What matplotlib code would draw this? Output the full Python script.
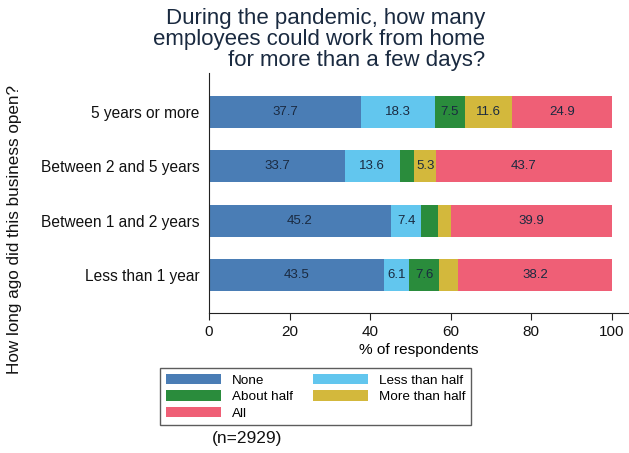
import matplotlib
matplotlib.use("Agg")
import matplotlib.pyplot as plt
from matplotlib.patches import Patch

plt.rcParams['font.family'] = ['Liberation Sans', 'DejaVu Sans']

categories = ["Less than 1 year", "Between 1 and 2 years", "Between 2 and 5 years", "5 years or more"]
series_names = ["None", "Less than half", "About half", "More than half", "All"]
none_vals = [43.5, 45.2, 33.7, 37.7]
less_half = [6.1, 7.4, 13.6, 18.3]
about_half = [7.6, 4.3, 3.7, 7.5]
more_half = [4.6, 3.2, 5.3, 11.6]
all_vals = [38.2, 39.9, 43.7, 24.9]
series = [none_vals, less_half, about_half, more_half, all_vals]
colors = ["#4a7db5", "#62c6ee", "#2a8c3c", "#d3b83c", "#ef5f76"]
xticks = [0, 20, 40, 60, 80, 100]

W, H = 629, 453
fig = plt.figure(figsize=(W / 100, H / 100), dpi=100)
ax = fig.add_axes([209 / W, 1 - 313 / H, 419 / W, 240 / H])

ypos = list(range(len(categories)))
left = [0.0] * len(categories)
handles = {}
for name, vals, col in zip(series_names, series, colors):
    ax.barh(ypos, vals, left=left, height=0.59, color=col, edgecolor='none')
    handles[name] = Patch(facecolor=col, edgecolor='none')
    for y, v, l in zip(ypos, vals, left):
        if v >= 5:
            ax.text(l + v / 2, y, f"{v:.1f}", ha='center', va='center', fontsize=9.5, color='#1a2a40')
    left = [a + b for a, b in zip(left, vals)]

ax.set_xlim(0, 104)
ax.set_ylim(-0.70, 3.72)
ax.set_yticks(ypos)
ax.set_yticklabels(categories, fontsize=11.2, color='#111111')
ax.set_xticks(xticks)
ax.set_xticklabels([str(t) for t in xticks], fontsize=11, color='#111111')
ax.set_xlabel("% of respondents", fontsize=11.1, labelpad=3)
for s in ['top', 'right']:
    ax.spines[s].set_visible(False)
ax.spines['left'].set_color('#222222')
ax.spines['bottom'].set_color('#222222')
ax.tick_params(axis='y', length=0, pad=7)
ax.tick_params(axis='x', length=5, color='#222222')

fig.text(485 / W, 1 - 8 / H, "During the pandemic, how many\nemployees could work from home\nfor more than a few days?",
         ha='right', va='top', fontsize=16, color='#1a2a40', linespacing=1.0, multialignment='right')

fig.text(15 / W, 1 - 230 / H, "How long ago did this business open?", rotation=90,
         ha='center', va='center', fontsize=12.3, color='#111111')

order = ["None", "About half", "All", "Less than half", "More than half"]
leg = fig.legend([handles[n] for n in order], order, ncol=2,
                 loc='upper left', bbox_to_anchor=(160 / W, 1 - 368 / H), borderaxespad=0,
                 fontsize=9.7, frameon=True, fancybox=False, edgecolor='#333333',
                 handlelength=4.1, handleheight=0.85, columnspacing=1.5,
                 labelspacing=0.26, borderpad=0.42, handletextpad=0.8)
leg.get_frame().set_linewidth(1.0)

fig.text(212 / W, 1 - 438 / H, "(n=2929)", ha='left', va='center', fontsize=12.5, color='#111111')

fig.savefig("out.png", dpi=100)
